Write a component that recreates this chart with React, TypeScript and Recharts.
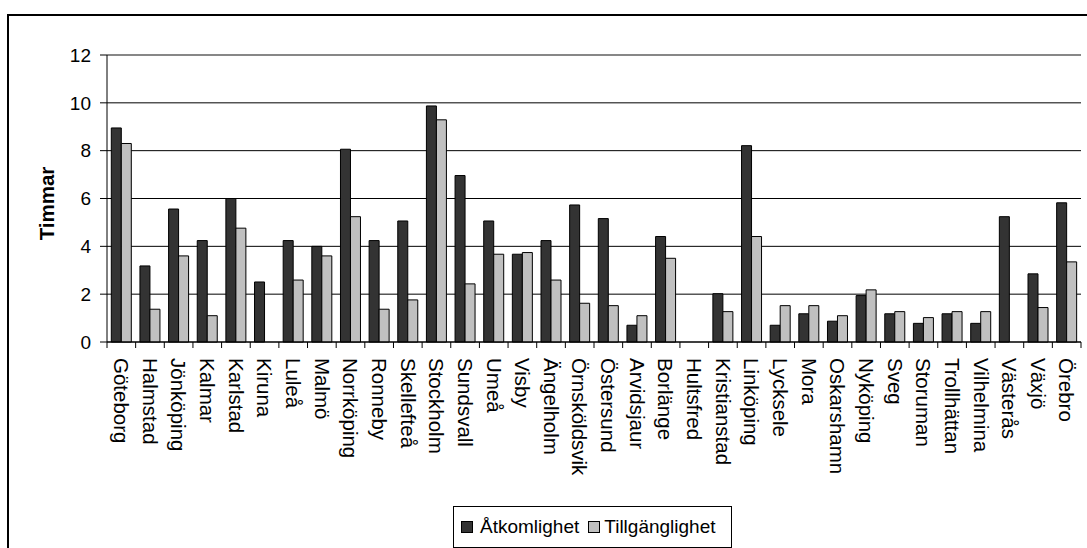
import React from 'react';
import { BarChart, Bar, XAxis, YAxis, CartesianGrid, Legend, ReferenceLine } from 'recharts';

const CITIES = [
  'Göteborg', 'Halmstad', 'Jönköping', 'Kalmar', 'Karlstad', 'Kiruna', 'Luleå', 'Malmö',
  'Norrköping', 'Ronneby', 'Skellefteå', 'Stockholm', 'Sundsvall', 'Umeå', 'Visby', 'Ängelholm',
  'Örnsköldsvik', 'Östersund', 'Arvidsjaur', 'Borlänge', 'Hultsfred', 'Kristianstad', 'Linköping',
  'Lycksele', 'Mora', 'Oskarshamn', 'Nyköping', 'Sveg', 'Storuman', 'Trollhättan', 'Vilhelmina',
  'Västerås', 'Växjö', 'Örebro',
];

const ATKOMLIGHET = [
  8.95, 3.18, 5.56, 4.24, 6.0, 2.51, 4.24, 4.0,
  8.06, 4.24, 5.06, 9.87, 6.96, 5.06, 3.67, 4.24,
  5.73, 5.16, 0.7, 4.41, 0, 2.02, 8.21,
  0.7, 1.18, 0.87, 1.94, 1.18, 0.78, 1.18, 0.78,
  5.24, 2.85, 5.82,
];

const TILLGANGLIGHET = [
  8.3, 1.37, 3.6, 1.1, 4.76, 0, 2.59, 3.6,
  5.24, 1.37, 1.76, 9.29, 2.43, 3.67, 3.74, 2.59,
  1.62, 1.52, 1.1, 3.5, 0, 1.27, 4.41,
  1.52, 1.52, 1.1, 2.18, 1.27, 1.02, 1.27, 1.27,
  0, 1.44, 3.35,
];

const Y_TICKS = [0, 2, 4, 6, 8, 10, 12];
const SERIES_NAMES = ['Åtkomlighet', 'Tillgänglighet'];
const SERIES_COLORS = ['#333333', '#c0c0c0'];

const data = CITIES.map((c, i) => ({
  city: c,
  a: ATKOMLIGHET[i],
  t: TILLGANGLIGHET[i],
}));

const W = 1087;
const H = 548;
const PLOT_LEFT = 107;
const PLOT_RIGHT = 1081;
const BAND = (PLOT_RIGHT - PLOT_LEFT) / CITIES.length;
const FONT = '"Liberation Sans", Arial, sans-serif';

function XTick(props: any) {
  const { x, y, payload, index } = props;
  const half = BAND / 2;
  return (
    <g>
      <line x1={x - half} x2={x - half} y1={y} y2={y + 6} stroke="#000" strokeWidth={1} />
      {index === CITIES.length - 1 && (
        <line x1={x + half} x2={x + half} y1={y} y2={y + 6} stroke="#000" strokeWidth={1} />
      )}
      <text
        transform={`translate(${x},${y + 16}) rotate(90)`}
        dy="0.35em"
        fontSize={20.5}
        fontFamily={FONT}
        fill="#000"
        textAnchor="start"
      >
        {payload.value}
      </text>
    </g>
  );
}

function YLabel(props: any) {
  const { viewBox } = props;
  const cx = viewBox.x + 46;
  const cy = viewBox.y + viewBox.height / 2 + 5;
  return (
    <text
      x={cx}
      y={cy}
      transform={`rotate(-90, ${cx}, ${cy})`}
      textAnchor="middle"
      dominantBaseline="central"
      fontSize={20.5}
      fontWeight="bold"
      fontFamily={FONT}
      fill="#000"
    >
      Timmar
    </text>
  );
}

function LegendBox() {
  return (
    <div
      style={{
        boxSizing: 'border-box',
        width: 279,
        height: 42,
        border: '1px solid #000',
        background: '#fff',
        display: 'flex',
        alignItems: 'center',
        paddingLeft: 7,
        fontFamily: FONT,
        fontSize: 19,
        color: '#000',
        whiteSpace: 'nowrap',
      }}
    >
      {SERIES_NAMES.map((n, i) => (
        <React.Fragment key={n}>
          <span
            style={{
              display: 'inline-block',
              boxSizing: 'border-box',
              width: 12,
              height: 12,
              background: SERIES_COLORS[i],
              border: '1px solid #000',
              marginRight: i === 0 ? 7 : 4,
            }}
          />
          <span style={{ marginRight: 9 }}>{n}</span>
        </React.Fragment>
      ))}
    </div>
  );
}

export default function App() {
  return (
    <div style={{ position: 'absolute', left: 0, top: 0, width: W, height: H, overflow: 'hidden', background: '#fff' }}>
      <div
        style={{
          position: 'absolute',
          left: 7,
          top: 14,
          width: 1200,
          height: 700,
          borderLeft: '2px solid #000',
          borderTop: '2px solid #000',
        }}
      />
      <div style={{ position: 'absolute', left: 0, top: 0 }}>
        <BarChart
          width={W}
          height={H}
          data={data}
          margin={{ top: 55, right: W - PLOT_RIGHT, left: 0, bottom: 56 }}
          barCategoryGap="15%"
          barGap={0}
        >
          <CartesianGrid horizontal vertical={false} stroke="#000" strokeWidth={1} />
          <ReferenceLine y={12} stroke="#8a8a8a" strokeWidth={1.5} />
          <ReferenceLine x="Örebro" position="end" stroke="#8a8a8a" strokeWidth={1.5} />
          <XAxis
            dataKey="city"
            interval={0}
            height={150}
            tickLine={false}
            tickSize={0}
            tickMargin={0}
            axisLine={{ stroke: '#000', strokeWidth: 1 }}
            tick={(p: any) => <XTick {...p} />}
          />
          <YAxis
            width={107}
            domain={[0, 12]}
            ticks={Y_TICKS}
            interval={0}
            tickSize={7}
            tickMargin={9}
            axisLine={{ stroke: '#000', strokeWidth: 1 }}
            tickLine={{ stroke: '#000', strokeWidth: 1 }}
            tick={{ fontSize: 19, fontFamily: FONT, fill: '#000' }}
            label={(p: any) => <YLabel {...p} />}
          />
          <Bar dataKey="a" name={SERIES_NAMES[0]} fill={SERIES_COLORS[0]} stroke="#000" strokeWidth={1} isAnimationActive={false} />
          <Bar dataKey="t" name={SERIES_NAMES[1]} fill={SERIES_COLORS[1]} stroke="#000" strokeWidth={1} isAnimationActive={false} />
          <Legend
            layout="horizontal"
            verticalAlign="middle"
            align="center"
            content={() => <LegendBox />}
            wrapperStyle={{ left: 453, top: 506, width: 279, height: 42 }}
          />
        </BarChart>
      </div>
    </div>
  );
}
